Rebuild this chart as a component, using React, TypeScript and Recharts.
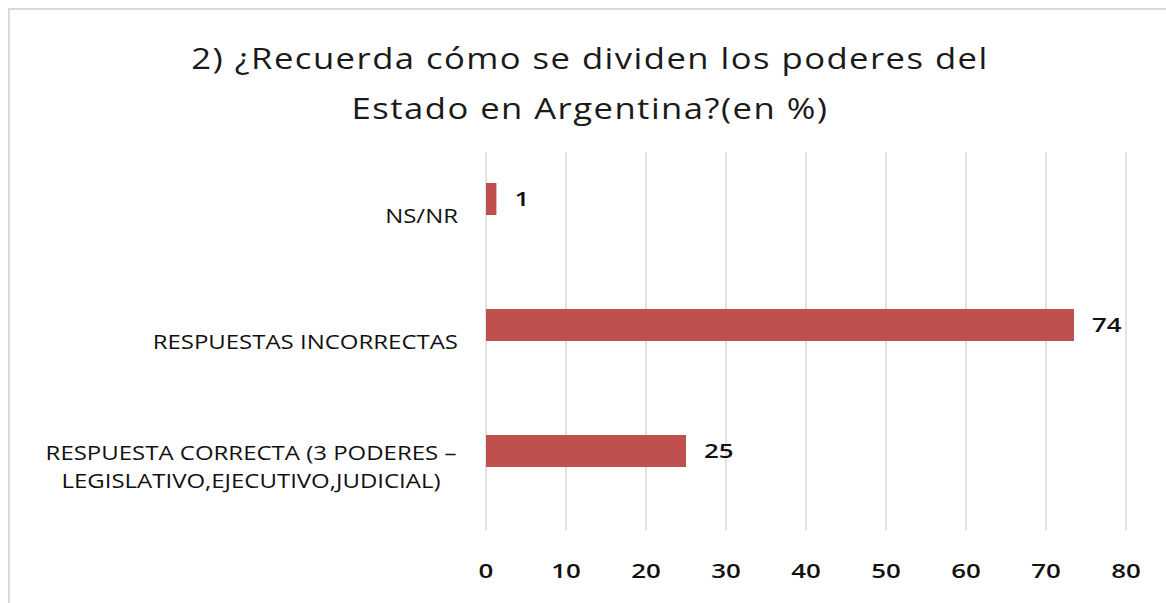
import React from "react";
import { BarChart, Bar, XAxis, YAxis, CartesianGrid, LabelList } from "recharts";

const categorias = [
  "NS/NR",
  "RESPUESTAS INCORRECTAS",
  "RESPUESTA CORRECTA (3 PODERES –\nLEGISLATIVO,EJECUTIVO,JUDICIAL)",
];
const porcentajes = [1.3, 73.5, 25];
// Excel dibuja la serie junto a una segunda serie vacía
const serieVacia = [null, null, null];
const ticksX = [0, 10, 20, 30, 40, 50, 60, 70, 80];
const tituloLineas = ["2) ¿Recuerda cómo se dividen los poderes del", "Estado en Argentina?(en %)"];

const data = categorias.map((c, i) => ({
  categoria: c,
  valor: porcentajes[i],
  vacio: serieVacia[i],
}));

const FONT = "'Open Sans', sans-serif";

const StretchText = ({ x, y, anchor = "start", size, weight = 400, fill = "#000", stretch = 1, spacing = 0, children }: any) => (
  <text
    transform={`translate(${x},${y}) scale(${stretch},1)`}
    x={0}
    y={0}
    textAnchor={anchor}
    fontFamily={FONT}
    fontSize={size}
    fontWeight={weight}
    letterSpacing={spacing}
    fill={fill}
  >
    {children}
  </text>
);

const CategoryTick = ({ x, y, payload }: any) => {
  const lines = String(payload.value).split("\n");
  const right = x - 20;
  if (lines.length === 1) {
    return (
      <StretchText x={right} y={y + 8} anchor="end" size={19.5} stretch={1.23} fill="#111">
        {lines[0]}
      </StretchText>
    );
  }
  return (
    <g>
      {lines.map((l, i) => (
        <StretchText key={i} x={right - 207} y={y - 7 + i * 28} anchor="middle" size={19.5} stretch={1.23} fill="#111">
          {l}
        </StretchText>
      ))}
    </g>
  );
};

const ValueTick = ({ x, y, payload }: any) => (
  <StretchText x={x} y={y + 40} anchor="middle" size={19.5} weight={600} stretch={1.33} fill="#111">
    {payload.value}
  </StretchText>
);

const ValueLabel = ({ x, y, width, height, value }: any) => {
  if (value == null) return null;
  return (
    <StretchText x={x + width + 18} y={y + height / 2 + 7} size={19.5} weight={600} stretch={1.33} fill="#111">
      {Math.round(value)}
    </StretchText>
  );
};

export default function App() {
  return (
    <div style={{ position: "fixed", left: 0, top: 0, width: 1166, height: 603, overflow: "hidden", background: "#fff" }}>
      <div
        style={{
          position: "absolute",
          left: 8,
          top: 8,
          width: 1200,
          height: 650,
          border: "2px solid #d9d9d9",
          boxSizing: "border-box",
        }}
      />
      <svg width={1166} height={140} style={{ position: "absolute", left: 0, top: 0 }}>
        {tituloLineas.map((t, i) => (
          <StretchText key={i} x={590} y={69 + i * 50} anchor="middle" size={28.5} stretch={1.216} spacing={1.2} fill="#1a1a1a">
            {t}
          </StretchText>
        ))}
      </svg>
      <div style={{ position: "absolute", left: 0, top: 0 }}>
        <BarChart
          width={1166}
          height={603}
          data={data}
          layout="vertical"
          margin={{ top: 152, right: 40, bottom: 23, left: 16 }}
          barGap={0}
          barSize={32}
        >
          <CartesianGrid horizontal={false} stroke="#d9d9d9" strokeWidth={1.5} />
          <XAxis
            type="number"
            domain={[0, 80]}
            ticks={ticksX}
            axisLine={false}
            tickLine={false}
            height={50}
            tick={<ValueTick />}
            interval={0}
          />
          <YAxis
            type="category"
            dataKey="categoria"
            width={470}
            axisLine={false}
            tickLine={false}
            tick={<CategoryTick />}
            interval={0}
          />
          <Bar dataKey="valor" fill="#c0504d" isAnimationActive={false}>
            <LabelList dataKey="valor" content={<ValueLabel />} />
          </Bar>
          <Bar dataKey="vacio" fill="#c0504d" isAnimationActive={false} />
        </BarChart>
      </div>
    </div>
  );
}
